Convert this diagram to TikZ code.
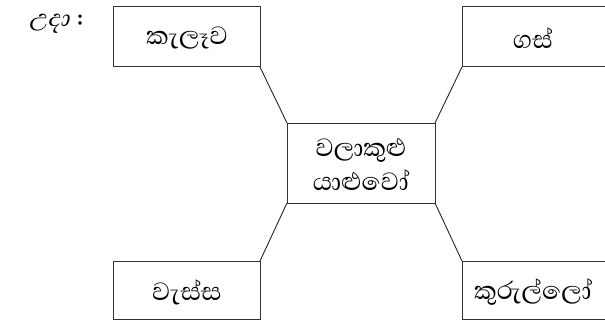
\documentclass[tikz,border=0pt]{standalone}
\usepackage{fontspec}
\newfontfamily\sinhala[Script=Sinhala]{Abhaya Libre}
\newfontfamily\sinhalasl[Script=Sinhala,FakeSlant=0.25]{Abhaya Libre}
\begin{document}
\begin{tikzpicture}[x=1pt,y=-1pt,
  box/.style={draw=black!80,line width=1pt},
  conn/.style={draw=black!85,line width=0.9pt},
  lbl/.style={font=\sinhala\fontsize{32}{34}\selectfont,inner sep=0pt}]
\useasboundingbox (0,0) rectangle (605,321);
\begin{scope}
\clip (0,0) rectangle (605,321);
% boxes
\draw[box] (113,7) rectangle (260,67);
\draw[box] (610,7) -- (462,7) -- (462,67) -- (610,67);
\draw[box] (287,123) rectangle (435,203);
\draw[box] (113,261) rectangle (260,319);
\draw[box] (610,261) -- (462,261) -- (462,319) -- (610,319);
\end{scope}
\coordinate (tl) at (260,67);
\coordinate (tr) at (462,67);
\coordinate (bl) at (260,261);
\coordinate (br) at (462,261);
\coordinate (ctl) at (287,123);
\coordinate (ctr) at (435,123);
\coordinate (cbl) at (287,203);
\coordinate (cbr) at (435,203);
\draw[conn] (tl) -- (ctl);
\draw[conn] (tr) -- (ctr);
\draw[conn] (bl) -- (cbl);
\draw[conn] (br) -- (cbr);
% labels
\node[lbl,font=\sinhala\fontsize{30}{32}\selectfont] (eg) at (56,24) {{\sinhalasl උදා}\hspace{8pt}\textbf{:}};
\node[lbl] (n1) at (187,38) {කැලෑව};
\node[lbl] (n2) at (533,38) {ගස්};
\node[lbl,align=center,font=\sinhala\fontsize{32}{34}\selectfont] (n3) at (361,164) {වලාකුළු\\යාළුවෝ};
\node[lbl] (n4) at (187,292) {වැස්ස};
\node[lbl] (n5) at (533,292) {කුරුල්ලෝ};
\end{tikzpicture}
\end{document}
